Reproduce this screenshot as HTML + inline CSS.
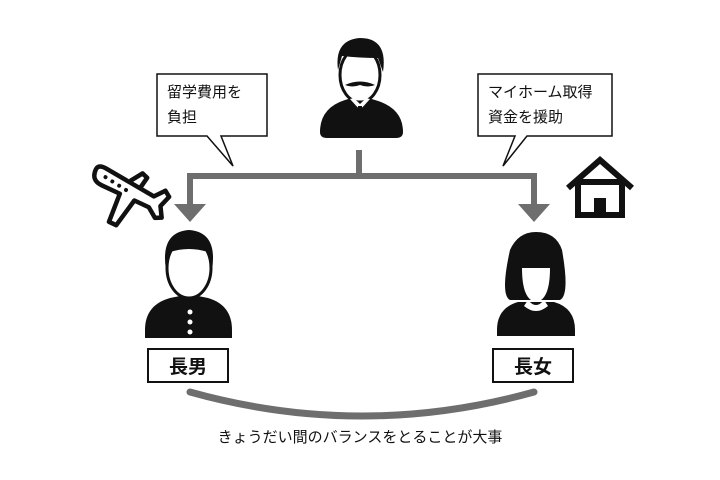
<!DOCTYPE html>
<html><head><meta charset="utf-8"><style>
body{margin:0;width:720px;height:480px;background:#fff;overflow:hidden;font-family:"Liberation Sans","Noto Sans CJK JP",sans-serif}
.t{position:absolute;color:#111;white-space:nowrap}
</style></head><body>
<svg width="720" height="480" style="position:absolute;left:0;top:0" xmlns="http://www.w3.org/2000/svg">
<g stroke="#6e6e6e" stroke-width="6" fill="none">
<line x1="359" y1="150" x2="359" y2="176"/>
<polyline points="190,206 190,176 534,176 534,206"/>
<path d="M190,392 Q362,440 534,392" stroke-width="7" stroke-linecap="round"/>
</g>
<polygon points="174,204 206,204 190,222" fill="#6e6e6e"/>
<polygon points="518,204 550,204 534,222" fill="#6e6e6e"/>
<path d="M157,74 H267 V136 H221 L233,166 L207,136 H157 Z" fill="#fff" stroke="#111" stroke-width="1.5"/>
<path d="M478,74 H612 V136 H527 L503,166 L515,136 H478 Z" fill="#fff" stroke="#111" stroke-width="1.5"/>
<g fill="#111">
<path d="M320,132 Q320,108 345,100 L355,97 L365,97 L375,100 Q403,108 403,132 Q403,138 396,138 H327 Q320,138 320,132Z"/>
<ellipse cx="360" cy="75" rx="20" ry="27" fill="#fff" stroke="#111" stroke-width="3"/>
<path d="M338,70 Q334,40 360,38 Q388,38 383,72 L378,58 Q360,58 342,56 Z"/>
<path d="M345,85 Q360,78 375,85 Q368,88 360,85 Q352,88 345,85Z"/>
<path d="M350,99 L360,110 L370,99 L366,98 L360,104 L354,98Z" fill="#fff"/>
<path d="M358,106 L362,106 L364,128 L360,132 L356,128Z"/>
</g>
<g fill="#111">
<path d="M145,330 Q145,305 170,298 L180,296 H198 L208,298 Q232,305 232,330 V338 H145Z"/>
<ellipse cx="189" cy="268" rx="22" ry="30" fill="#fff" stroke="#111" stroke-width="3"/>
<path d="M166,270 Q160,232 189,230 Q218,232 212,270 L208,252 Q189,246 170,252Z"/>
<circle cx="190" cy="312" r="2.5" fill="#fff"/><circle cx="190" cy="322" r="2.5" fill="#fff"/><circle cx="190" cy="332" r="2.5" fill="#fff"/>
</g>
<g fill="#111">
<path d="M497,330 Q497,308 518,302 H554 Q575,308 575,330 V336 H497Z"/>
<path d="M510,300 Q500,295 510,250 Q518,232 536,232 Q556,232 562,250 Q570,295 560,300Z"/>
<path d="M522,268 H550 Q550,300 536,302 Q522,300 522,268Z" fill="#fff"/>
<path d="M528,300 Q536,310 544,300 L548,306 Q536,316 524,306Z" fill="#fff"/>
</g>
<!-- plane -->
<g transform="translate(126,190) rotate(25)" fill="#fff" stroke="#111" stroke-width="4.5" stroke-linejoin="round">
<path d="M-36,-6 Q-36,-12 -26,-11 L28,-6 L36,-16 L42,-12 L38,0 L44,10 L38,13 L28,6 L12,6 L6,36 L-2,36 L-4,6 L-24,6 Q-36,6 -36,-6Z M0,-10 L8,-22 L14,-20 L12,-8"/>
</g>
<g fill="#111" transform="translate(126,190) rotate(25)">
<circle cx="-24" cy="-3" r="2"/><circle cx="-16" cy="-2" r="2"/><circle cx="-8" cy="-1" r="2"/><circle cx="0" cy="0" r="2"/>
</g>
<g fill="none" stroke="#111" stroke-width="6" stroke-linejoin="miter">
<polyline points="568,188 600,160 632,188"/>
<rect x="578" y="182" width="44" height="33"/>
</g>
<rect x="594" y="198" width="12" height="17" fill="#111"/>
<rect x="148" y="349" width="80" height="33" fill="#fff" stroke="#111" stroke-width="2"/>
<rect x="493" y="349" width="80" height="33" fill="#fff" stroke="#111" stroke-width="2"/>
</svg>
<div class="t" style="left:167px;top:80px;font-size:15px;line-height:25px">留学費用を<br>負担</div>
<div class="t" style="left:488px;top:80px;font-size:15px;line-height:25px">マイホーム取得<br>資金を援助</div>
<div class="t" style="left:148px;top:352px;width:80px;text-align:center;font-size:19px;font-weight:bold">長男</div>
<div class="t" style="left:493px;top:352px;width:80px;text-align:center;font-size:19px;font-weight:bold">長女</div>
<div class="t" style="left:0;top:426px;width:720px;text-align:center;font-size:15px">きょうだい間のバランスをとることが大事</div>
</body></html>
